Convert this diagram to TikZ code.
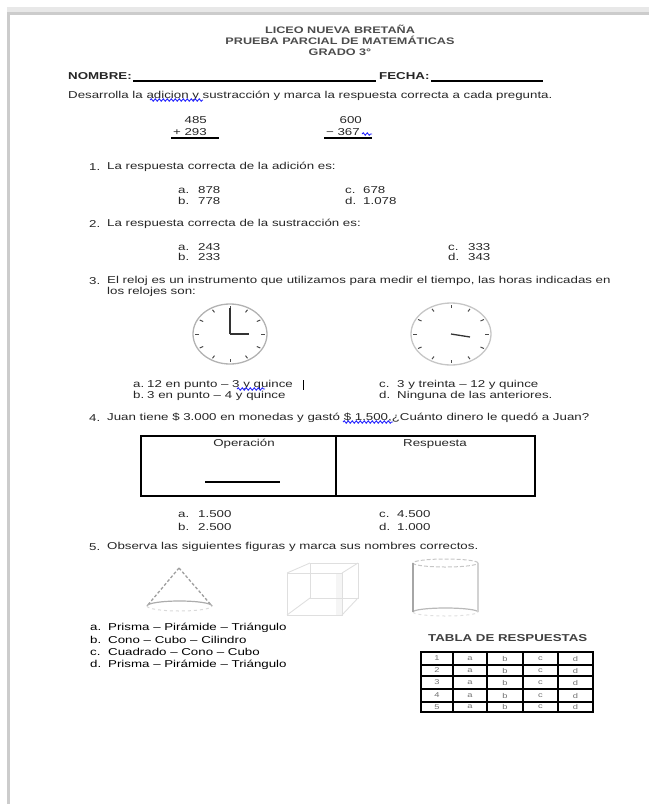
\documentclass[tikz,border=0pt]{standalone}
\usepackage{fontspec}
\setmainfont{Liberation Sans}[FakeStretch=1.33]
\usetikzlibrary{decorations.pathmorphing}
\tikzset{
  txt/.style={anchor=west,inner sep=0pt,font=\fontsize{10}{12}\selectfont,text=black!85},
  ttl/.style={inner sep=0pt,font=\fontsize{9.5}{11}\selectfont\bfseries,text=black!70},
  fig/.style={txt,text=black},
  squig/.style={blue!85,line width=0.9pt,decorate,decoration={snake,amplitude=1.2pt,segment length=4pt}},
  rim/.style={gray!60,line width=1.3pt},
  clocktick/.style={gray!60!black,line width=1pt},
  hand/.style={gray!40!black,line width=1.3pt},
  frame/.style={black,line width=2.5pt},
  tabline/.style={black,line width=2.2pt},
  cell/.style={inner sep=0pt,font=\fontsize{7}{8}\selectfont,text=black!55},
}
\begin{document}
\begin{tikzpicture}[x=1pt,y=-1pt]
  \useasboundingbox (0,0) rectangle (649,804);
  \fill[gray!18] (7,7) rectangle (649,12);
  \fill[gray!40] (7,12) rectangle (649,15);
  \fill[gray!40] (7,12) rectangle (10,804);

  \node[ttl] (title1) at (340,29) {LICEO NUEVA BRETAÑA};
  \node[ttl] (title2) at (340,40) {PRUEBA PARCIAL DE MATEMÁTICAS};
  \node[ttl] (title3) at (340,52) {GRADO 3°};

  \node[txt,font=\fontsize{10}{12}\selectfont\bfseries] (nombre) at (68,76) {NOMBRE:};
  \node[txt,font=\fontsize{10}{12}\selectfont\bfseries] (fecha) at (379,76) {FECHA:};
  \draw[line width=1.2pt] (133,81) -- (376,81);
  \draw[line width=1.2pt] (431,81) -- (543,81);

  \node[txt] (instr) at (68,96) {Desarrolla la adicion y sustracción y marca la respuesta correcta a cada pregunta.};
  \draw[squig] (150,100) -- (203,100);

  \node[txt,anchor=east] (sumtop) at (207,120) {485};
  \node[txt,anchor=east] (sumbot) at (207,132) {+ 293};
  \draw[line width=1.2pt] (171,138) -- (219,138);
  \node[txt,anchor=east] (subtop) at (362,120) {600};
  \node[txt,anchor=east] (subbot) at (360,132) {− 367};
  \draw[line width=1.2pt] (324,138) -- (372,138);
  \draw[squig] (362,134) -- (372,134);

  \node[txt] (qonenum) at (89,167) {1.};
  \node[txt] (qone) at (107,167) {La respuesta correcta de la adición es:};
  \node[txt] (qoneA) at (178,190) {\makebox[20pt][l]{a.}878};
  \node[txt] (qoneB) at (178,201) {\makebox[20pt][l]{b.}778};
  \node[txt] (qoneC) at (345,190) {\makebox[18pt][l]{c.}678};
  \node[txt] (qoneD) at (345,201) {\makebox[18pt][l]{d.}1.078};

  \node[txt] (qtwonum) at (89,224) {2.};
  \node[txt] (qtwo) at (107,224) {La respuesta correcta de la sustracción es:};
  \node[txt] (qtwoA) at (178,247) {\makebox[20pt][l]{a.}243};
  \node[txt] (qtwoB) at (178,257) {\makebox[20pt][l]{b.}233};
  \node[txt] (qtwoC) at (448,247) {\makebox[20pt][l]{c.}333};
  \node[txt] (qtwoD) at (448,257) {\makebox[20pt][l]{d.}343};

  \node[txt] (qthreenum) at (89,281) {3.};
  \node[txt] (qthree) at (107,281) {El reloj es un instrumento que utilizamos para medir el tiempo, las horas indicadas en};
  \node[txt] (qthreeb) at (107,292) {los relojes son:};

  \coordinate (clockA) at (230,334);
  \draw[rim] (clockA) ellipse (37pt and 30pt);
  \foreach \a in {0,30,...,330}
    \draw[clocktick] ([shift={(\a:31 and 25)}]clockA) -- ([shift={(\a:35 and 28)}]clockA);
  \draw[hand] (clockA) -- ++(0,-26);
  \draw[hand] (clockA) -- ++(19,0);

  \coordinate (clockB) at (451,334);
  \draw[rim,gray!45] (clockB) ellipse (40pt and 31pt);
  \foreach \a in {0,30,...,330}
    \draw[clocktick] ([shift={(\a:34 and 26)}]clockB) -- ([shift={(\a:38 and 29)}]clockB);
  \draw[hand] (clockB) -- ++(19,3);

  \node[txt] (qthreeA) at (133,385) {\makebox[14pt][l]{a.}12 en punto – 3 y quince};
  \node[txt] (qthreeB) at (133,396) {\makebox[14pt][l]{b.}3 en punto – 4 y quince};
  \node[txt] (qthreeC) at (379,385) {\makebox[18pt][l]{c.}3 y treinta – 12 y quince};
  \node[txt] (qthreeD) at (379,396) {\makebox[18pt][l]{d.}Ninguna de las anteriores.};
  \draw[squig] (237,389) -- (265,389);
  \draw[line width=1pt] (303,380) -- (303,390);

  \node[txt] (qfournum) at (89,418) {4.};
  \node[txt] (qfour) at (107,418) {Juan tiene \$ 3.000 en monedas y gastó \$ 1.500,¿Cuánto dinero le quedó a Juan?};
  \draw[squig] (343,422) -- (393,422);

  \draw[frame] (141,436) rectangle (535,496);
  \draw[frame] (336,436) -- (336,496);
  \node[txt,anchor=center] (oper) at (244,444) {Operación};
  \node[txt,anchor=center] (resp) at (435,444) {Respuesta};
  \draw[line width=1.6pt] (205,482) -- (280,482);

  \node[txt] (qfourA) at (178,514) {\makebox[20pt][l]{a.}1.500};
  \node[txt] (qfourB) at (178,527) {\makebox[20pt][l]{b.}2.500};
  \node[txt] (qfourC) at (379,514) {\makebox[18pt][l]{c.}4.500};
  \node[txt] (qfourD) at (379,527) {\makebox[18pt][l]{d.}1.000};

  \node[txt] (qfivenum) at (89,547) {5.};
  \node[txt] (qfive) at (107,547) {Observa las siguientes figuras y marca sus nombres correctos.};

  \draw[gray!75,line width=1.3pt,dash pattern=on 3pt off 2pt] (179,568) -- (147,606);
  \draw[gray!75,line width=1.3pt,dash pattern=on 3pt off 2pt] (179,568) -- (212,606);
  \draw[gray!65,line width=1.2pt] (147,606) arc[start angle=180,end angle=360,x radius=32.5pt,y radius=-5pt];
  \draw[gray!30,line width=1pt,dashed] (147,606) arc[start angle=180,end angle=0,x radius=32.5pt,y radius=-5pt];

  \fill[gray!8] (336,573) rectangle (342,615);
  \draw[gray!25,line width=0.9pt] (287,573) rectangle (342,615);
  \draw[gray!25,line width=0.9pt] (310,563) rectangle (358,598);
  \draw[gray!25,line width=0.9pt] (287,573) -- (310,563) (342,573) -- (358,563) (342,615) -- (358,598) (287,615) -- (310,598);

  \draw[gray!45,line width=1pt,dash pattern=on 4pt off 2pt] (445.5,563) ellipse (32.5pt and 4pt);
  \draw[gray!55,line width=1.2pt] (413,612) arc[start angle=180,end angle=360,x radius=32.5pt,y radius=-4pt];
  \draw[gray!25,line width=1pt,dashed] (413,612) arc[start angle=180,end angle=0,x radius=32.5pt,y radius=-4pt];
  \draw[gray!70,line width=1.8pt] (413,563) -- (413,612);
  \draw[gray!35,line width=1.4pt] (478,563) -- (478,612);

  \node[fig] (figA) at (90,628) {\makebox[18pt][l]{a.}Prisma – Pirámide – Triángulo};
  \node[fig] (figB) at (90,640) {\makebox[18pt][l]{b.}Cono – Cubo – Cilindro};
  \node[fig] (figC) at (90,652) {\makebox[18pt][l]{c.}Cuadrado – Cono – Cubo};
  \node[fig] (figD) at (90,665) {\makebox[18pt][l]{d.}Prisma – Pirámide – Triángulo};

  \node[txt,font=\fontsize{10}{12}\selectfont\bfseries,text=black!75] (tabla) at (428,638) {TABLA DE RESPUESTAS};
  \draw[tabline] (421,652) rectangle (593,712);
  \foreach \x in {453,487,523,558}
    \draw[tabline] (\x,652) -- (\x,712);
  \foreach \y in {665,676,689,702}
    \draw[tabline] (421,\y) -- (593,\y);
  \foreach \r/\y in {1/658.5,2/670.5,3/682.5,4/695.5,5/707} {
    \node[cell] (row\r) at (437,\y) {\r};
    \foreach \c/\x in {a/470,b/505,c/540.5,d/575.5}
      \node[cell] (\c\r) at (\x,\y) {\c};
  }
\end{tikzpicture}
\end{document}
